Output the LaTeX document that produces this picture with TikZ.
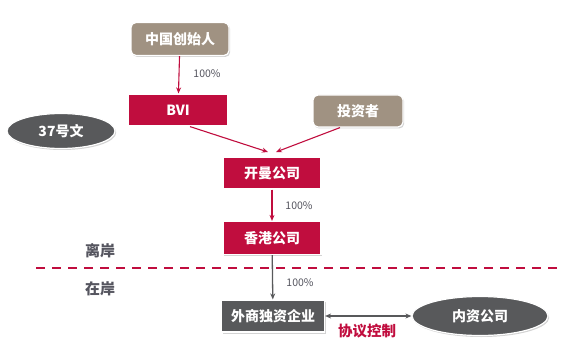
\documentclass[tikz,border=0pt]{standalone}
\usepackage{fontspec}
\setmainfont{Noto Sans CJK SC}
\definecolor{vered}{RGB}{192, 13, 62}
\definecolor{vetaupe}{RGB}{160, 146, 130}
\definecolor{vegray}{RGB}{88, 89, 91}
\definecolor{velabel}{RGB}{85, 85, 95}
\usetikzlibrary{shapes, arrows.meta, positioning, shadows}

\begin{document}
\begin{tikzpicture}[x=1pt, y=-1pt,
    box/.style={draw=white, line width=1.2pt, text=white, font=\bfseries\fontsize{14}{16}\selectfont,
      minimum height=32pt, inner sep=2pt, drop shadow={shadow xshift=1.2pt, shadow yshift=-1.5pt, opacity=0.35}},
    redbox/.style={box, fill=vered, minimum width=100pt},
    taupebox/.style={box, fill=vetaupe, rounded corners=5pt},
    grayoval/.style={box, ellipse, fill=vegray},
    pct/.style={text=velabel, font=\fontsize{10.5}{12}\selectfont},
    side/.style={text=velabel, font=\bfseries\fontsize{15}{17}\selectfont},
    redarrow/.style={draw=vered, line width=1.1pt, -{Stealth[length=6pt, width=5pt]}},
    grayarrow/.style={draw=vegray, line width=1.3pt, -{Stealth[length=6pt, width=5pt]}}]
  \useasboundingbox (0,0) rectangle (585,363);

  \node[taupebox, minimum width=98pt, minimum height=33pt] (founder) at (180,39) {中国创始人};
  \node[redbox] (bvi) at (178,110) {BVI};
  \node[taupebox, minimum width=90pt] (investor) at (358,111) {投资者};
  \node[grayoval, minimum width=108pt, minimum height=35pt] (doc) at (61,131) {37号文};
  \node[redbox, minimum width=98pt] (cayman) at (272,173) {开曼公司};
  \node[redbox, minimum width=98pt, minimum height=33pt] (hk) at (272,238) {香港公司};
  \node[box, fill=vegray, minimum width=103pt] (wfoe) at (273,316) {外商独资企业};
  \node[grayoval, minimum width=136pt, minimum height=39pt] (domestic) at (480,316) {内资公司};

  % onshore / offshore border
  \coordinate (lineL) at (36,268);
  \coordinate (lineR) at (560,268);
  \draw[vered, line width=2pt, dash pattern=on 9pt off 7pt] (lineL) -- (lineR);
  \node[side] (offshore) at (100,251) {离岸};
  \node[side] (onshore) at (100,289) {在岸};

  \coordinate (join1) at (268,152);
  \coordinate (join2) at (276,152);
  \draw[redarrow] (founder) -- (bvi);
  \draw[redarrow] ([xshift=12pt]bvi.south) -- (join1);
  \draw[redarrow] ([xshift=-18pt]investor.south) -- (join2);
  \draw[redarrow] (cayman) -- (hk);
  \draw[grayarrow] (hk) -- (wfoe);
  \draw[grayarrow, {Stealth[length=6pt, width=5pt]}-{Stealth[length=6pt, width=5pt]}] (wfoe) -- (domestic);

  \node[pct] (p1) at (207,74) {100\%};
  \node[pct] (p2) at (299,206) {100\%};
  \node[pct] (p3) at (300,283) {100\%};
  \node[text=vered, font=\bfseries\fontsize{14.5}{16}\selectfont] (vie) at (367,331) {协议控制};
\end{tikzpicture}
\end{document}
